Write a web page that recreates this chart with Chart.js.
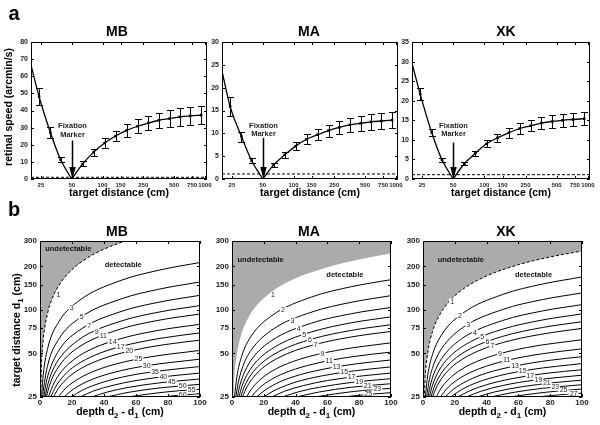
<!DOCTYPE html>
<html>
<head>
<meta charset="utf-8">
<script src="https://cdn.jsdelivr.net/npm/chart.js@4.4.1/dist/chart.umd.min.js"></script>
<style>
  html, body { margin: 0; padding: 0; background: #fff; }
  #wrap { position: relative; width: 600px; height: 425px; overflow: hidden; background: #fff; }
  #wrap canvas { position: absolute; left: 0; top: 0; width: 600px; height: 425px; }
</style>
</head>
<body>
<div id="wrap">
  <canvas id="aMB" width="600" height="425"></canvas>
  <canvas id="aMA" width="600" height="425"></canvas>
  <canvas id="aXK" width="600" height="425"></canvas>
  <canvas id="bMB" width="600" height="425"></canvas>
  <canvas id="bMA" width="600" height="425"></canvas>
  <canvas id="bXK" width="600" height="425"></canvas>
</div>
<script>
// ---- panel a : retinal speed vs target distance ----
const subjects = ['MB', 'MA', 'XK'];
const distances = [24, 31, 39, 50, 64, 82, 105, 134, 172, 220, 280, 355, 453, 570, 720, 920];
const distanceTicks = [25, 50, 100, 150, 250, 500, 750, 1000];

const mbSpeed = [48, 27, 11.2, 0, 8.8, 15.7, 21, 25.1, 28.4, 30.8, 32.7, 34.3, 35.3, 36.3, 36.9, 37.3];
const mbError = [4.9, 3.1, 1.5, 0, 1.5, 2, 2.7, 3.1, 3.7, 4.2, 4.3, 4.5, 5, 5.1, 5.4, 5.3];
const maSpeed = [15.9, 9.3, 4.0, 0, 3.1, 5.3, 7.2, 8.7, 9.7, 10.6, 11.3, 11.85, 12.2, 12.5, 12.7, 12.9];
const maError = [2.0, 1.1, 0.6, 0, 0.4, 0.7, 0.9, 1.1, 1.2, 1.3, 1.4, 1.6, 1.7, 1.7, 1.8, 1.8];
const xkSpeed = [21.7, 11.9, 4.9, 0, 3.9, 6.6, 9.0, 10.5, 11.8, 12.9, 13.6, 14.3, 14.7, 15.0, 15.2, 15.4];
const xkError = [1.5, 1.0, 0.45, 0, 0.4, 0.65, 0.85, 1.1, 1.3, 1.5, 1.4, 1.6, 1.6, 1.65, 1.7, 1.7];

const fitStartDist = 20;                 // fitted curve begins at the left edge
const fitStart = [66.5, 23.6, 29.6];     // MB, MA, XK
const thresholds = [1.0, 1.1, 1.1];
const mbSpeedTicks = [0, 10, 20, 30, 40, 50, 60, 70, 80];
const maSpeedTicks = [0, 5, 10, 15, 20, 25, 30];
const xkSpeedTicks = [0, 5, 10, 15, 20, 25, 30, 35];
const fixationDist = 50;

// ---- panel b : iso-speed contours (depth, target distance) ----
const depthTicks = [0, 20, 40, 60, 80, 100];
const targetTicks = [25, 50, 75, 100, 150, 200, 300];

const mbBoundary = [[0,25],[0.32,25],[1,44.2],[2,62.3],[5,97.5],[8,122.6],[12,149],[18,181],[25,211.5],[33,241],[40,263.5],[52.9,300]];
const mbLevels = [3, 5, 7, 9, 11, 14, 17, 20, 25, 30, 35, 40, 45, 50, 55, 60];
const mbContours = [
  [[0.97,25],[2,35.5],[5,55.3],[12,83.6],[25,117.2],[50,159.3],[75,189.2],[100,213]],
  [[1.67,25],[2,27.3],[5,42.3],[12,63.5],[25,88.3],[50,118.6],[75,139.7],[100,156.2]],
  [[2.4,25],[3.5,29.9],[5,35.4],[12,52.9],[25,72.9],[50,97.1],[75,113.6],[100,126.3]],
  [[3.17,25],[5,30.9],[8,38.4],[12,46],[25,63.1],[50,83.3],[75,97],[100,107.2]],
  [[3.99,25],[6,30.2],[9,36.2],[15,45.3],[25,56.1],[50,73.6],[75,85.2],[100,93.8]],
  [[5.3,25],[8,30],[12,35.8],[18,42.5],[30,52.2],[50,63.1],[75,72.6],[100,79.6]],
  [[6.75,25],[10,29.7],[15,35.2],[22,41.1],[35,49],[50,55.7],[75,63.6],[100,69.4]],
  [[8.33,25],[12,29.2],[18,34.4],[26,39.6],[40,46.3],[60,53.1],[80,58],[100,61.8]],
  [[11.36,25],[16,28.7],[24,33.4],[35,38.2],[50,43],[70,47.6],[100,52.5]],
  [[15,25],[20,27.9],[30,32.2],[45,36.7],[65,40.9],[100,45.7]],
  [[19.5,25],[26,27.7],[38,31.3],[55,35],[75,37.9],[100,40.6]],
  [[25,25],[33,27.4],[45,30],[60,32.5],[80,34.8],[100,36.6]],
  [[32.2,25],[42,27.05],[55,29.1],[75,31.35],[100,33.3]],
  [[41.7,25],[55,26.9],[75,28.9],[100,30.6]],
  [[54.9,25],[70,26.4],[85,27.5],[100,28.3]],
  [[75,25],[87,25.7],[100,26.4]]
];

const maBoundary = [[0,25],[0.76,25],[1.5,35],[3,49],[6,68.5],[10,87.3],[16,108.9],[25,133.8],[40,165.5],[60,197.8],[80,223.8],[100,245.8]];
const maLevels = [2, 3, 4, 5, 6, 7, 9, 11, 13, 15, 17, 19, 21, 23, 25];
const maContours = [
  [[1.56,25],[3,34.2],[6,47.6],[12,65.7],[25,91.3],[50,122.9],[75,144.9],[100,162.1]],
  [[2.42,25],[4,31.7],[7,41.2],[12,52.6],[25,72.6],[50,96.6],[75,113],[100,125.6]],
  [[3.33,25],[5,30.2],[8,37.4],[13,46.5],[25,61.5],[50,81.1],[75,94.2],[100,104.1]],
  [[4.31,25],[6.5,30.2],[10,36.5],[16,44.8],[30,58],[50,70.5],[75,81.5],[100,89.6]],
  [[5.36,25],[8,29.9],[12,35.7],[18,42.3],[30,51.9],[50,62.8],[75,72.2],[100,79.1]],
  [[6.48,25],[9.5,29.5],[14,34.8],[21,41.1],[35,50],[55,58.7],[80,66.4],[100,71]],
  [[9,25],[13,29.1],[19,33.9],[28,39.3],[42,45.4],[65,52.3],[100,59.3]],
  [[11.96,25],[17,28.7],[25,33.2],[36,37.7],[52,42.5],[75,47.4],[100,51.1]],
  [[15.48,25],[21,28],[30,31.8],[43,35.7],[62,39.8],[80,42.65],[100,45.1]],
  [[19.74,25],[26,27.5],[37,30.9],[52,34.2],[75,37.7],[100,40.4]],
  [[25,25],[33,27.4],[45,30],[60,32.5],[80,34.8],[100,36.6]],
  [[31.7,25],[42,27.2],[55,29.2],[75,31.5],[100,33.5]],
  [[40.4,25],[55,27.1],[75,29.2],[100,30.9]],
  [[52.3,25],[65,26.3],[82,27.7],[100,28.7]],
  [[69.4,25],[85,26],[100,26.8]]
];

const xkBoundary = [[0,25],[0.71,25],[1.5,36.2],[3,50.8],[6,71],[10,90.5],[16,112.9],[25,138.9],[40,171.8],[60,205.6],[80,232.8],[100,255.8]];
const xkLevels = [2, 3, 4, 5, 6, 7, 9, 11, 13, 15, 17, 19, 21, 23, 25, 27];
const xkContours = [
  [[1.45,25],[3,35.5],[6,49.3],[12,68.1],[25,94.9],[50,127.9],[75,151],[100,169.1]],
  [[2.25,25],[4,32.9],[7,42.7],[12,54.6],[25,75.5],[50,100.7],[75,117.9],[100,131.2]],
  [[3.09,25],[5,31.3],[8,38.9],[13,48.3],[25,64],[50,84.5],[75,98.4],[100,108.9]],
  [[3.98,25],[6,30.2],[10,38],[16,46.6],[30,60.4],[50,73.6],[75,85.2],[100,93.9]],
  [[4.93,25],[7.5,30.2],[12,37.1],[18,44],[30,54.1],[50,65.6],[75,75.6],[100,82.9]],
  [[5.95,25],[9,30],[14,36.2],[21,42.8],[35,52.2],[55,61.4],[80,69.5],[100,74.5]],
  [[8.21,25],[12,29.4],[18,34.6],[27,40.5],[42,47.5],[65,54.9],[100,62.3]],
  [[10.83,25],[16,29.3],[24,34.2],[35,39.1],[52,44.6],[75,49.8],[100,53.8]],
  [[13.89,25],[19,28.2],[28,32.4],[40,36.6],[58,41],[80,44.9],[100,47.5]],
  [[17.52,25],[24,28],[34,31.5],[48,35.1],[68,38.7],[100,42.6]],
  [[21.9,25],[29,27.5],[40,30.4],[56,33.5],[78,36.5],[100,38.6]],
  [[27.3,25],[36,27.3],[50,30],[70,32.7],[100,35.4]],
  [[34.1,25],[45,27.1],[62,29.4],[82,31.4],[100,32.7]],
  [[42.9,25],[56,26.8],[75,28.7],[100,30.4]],
  [[54.8,25],[70,26.4],[85,27.5],[100,28.4]],
  [[71.8,25],[86,25.9],[100,26.6]]
];

// where the contour numbers sit: [level, depth] (or [level, depth, distance])
const mbLabelAt = [[1,11.5,126],[3,19.8],[5,26],[7,30.8],[9,35.4],[11,39.6],[14,45.4],[17,50.4],[20,55.8],[25,61.5],[30,66.7],[35,71.9],[40,77.1],[45,82.3],[50,89.2],[55,94.8],[60,89.2]];
const maLabelAt = [[1,25.8,126],[2,32.1],[3,38],[4,42],[5,45.4],[6,49],[7,52.7],[9,56.9],[11,61.1],[13,65.8],[15,70.6],[17,75.2],[19,80],[21,85.3],[23,91.4],[25,85.7]];
const xkLabelAt = [[1,18.3,113.6],[2,23.2],[3,28.4],[4,32.6],[5,37.3],[6,40.6],[7,43.6],[9,48.4],[11,52.6],[13,57.9],[15,62.7],[17,67.4],[19,72.6],[21,77.9],[23,83.2],[25,88.4],[27,94.7]];

const FONT = '"Liberation Sans", Arial, Helvetica, sans-serif';

// draws a string with subscript pieces ('_x' means subscript x), centred on cx
function drawParts(ctx, parts, cx, cy, size) {
  const big = 'bold ' + size + 'px ' + FONT;
  const small = 'bold ' + Math.round(size * 0.72) + 'px ' + FONT;
  let w = 0;
  parts.forEach(p => {
    const sub = p[0] === '_';
    ctx.font = sub ? small : big;
    w += ctx.measureText(sub ? p.slice(1) : p).width;
  });
  let x = cx - w / 2;
  ctx.textAlign = 'left';
  ctx.textBaseline = 'middle';
  parts.forEach(p => {
    const sub = p[0] === '_';
    const t = sub ? p.slice(1) : p;
    ctx.font = sub ? small : big;
    ctx.fillText(t, x, cy + (sub ? size * 0.32 : 0));
    x += ctx.measureText(t).width;
  });
}

// box, inward ticks, tick labels and titles (MATLAB look)
const framePlugin = {
  id: 'frame',
  afterDraw(chart, args, o) {
    if (!o.xTicks) return;
    const ctx = chart.ctx, a = chart.chartArea;
    const xs = chart.scales.x, ys = chart.scales.y;
    ctx.save();
    ctx.strokeStyle = '#000';
    ctx.lineWidth = 1;
    ctx.strokeRect(a.left + 0.5, a.top + 0.5, a.right - a.left - 1, a.bottom - a.top - 1);
    ctx.beginPath();
    o.xTicks.forEach(v => {
      const p = Math.round(xs.getPixelForValue(v)) + 0.5;
      ctx.moveTo(p, a.bottom); ctx.lineTo(p, a.bottom - 3);
      ctx.moveTo(p, a.top); ctx.lineTo(p, a.top + 3);
    });
    o.yTicks.forEach(v => {
      const p = Math.round(ys.getPixelForValue(v)) + 0.5;
      ctx.moveTo(a.left, p); ctx.lineTo(a.left + 3, p);
      ctx.moveTo(a.right, p); ctx.lineTo(a.right - 3, p);
    });
    ctx.stroke();

    ctx.fillStyle = '#222';
    ctx.font = 'bold ' + o.xTickSize + 'px ' + FONT;
    ctx.textAlign = 'center';
    ctx.textBaseline = 'middle';
    o.xTicks.forEach(v => ctx.fillText(String(v), xs.getPixelForValue(v), a.bottom + 6));
    ctx.font = 'bold ' + o.yTickSize + 'px ' + FONT;
    ctx.textAlign = 'right';
    o.yTicks.forEach(v => ctx.fillText(String(v), a.left - 3, ys.getPixelForValue(v)));

    ctx.fillStyle = '#000';
    drawParts(ctx, o.xTitle, (a.left + a.right) / 2, o.xTitleY, 10.5);
    if (o.yTitle) {
      ctx.save();
      ctx.translate(o.yTitleX, o.yTitleY);
      ctx.rotate(-Math.PI / 2);
      drawParts(ctx, o.yTitle, 0, 0, 10.5);
      ctx.restore();
    }
    ctx.font = 'bold 14px ' + FONT;
    ctx.textAlign = 'center';
    ctx.textBaseline = 'middle';
    ctx.fillText(o.title, o.titleX, o.titleY);
    if (o.letter) {
      ctx.font = 'bold 20px ' + FONT;
      ctx.fillText(o.letter, o.letterX, o.letterY);
    }
    ctx.restore();
  }
};

const errorBars = {
  id: 'errorBars',
  afterDatasetsDraw(chart) {
    const ctx = chart.ctx, ys = chart.scales.y;
    chart.data.datasets.forEach((ds, i) => {
      if (!ds.errors) return;
      const meta = chart.getDatasetMeta(i);
      ctx.save();
      ctx.strokeStyle = '#000';
      ctx.lineWidth = 1;
      ctx.beginPath();
      meta.data.forEach((pt, k) => {
        const e = ds.errors[k];
        if (!e) return;
        const v = ds.data[k].y;
        const y1 = Math.round(ys.getPixelForValue(v - e)) + 0.5;
        const y2 = Math.round(ys.getPixelForValue(v + e)) + 0.5;
        const x = Math.round(pt.x) + 0.5;
        ctx.moveTo(x, y1); ctx.lineTo(x, y2);
        ctx.moveTo(x - 3.5, y1); ctx.lineTo(x + 3.5, y1);
        ctx.moveTo(x - 3.5, y2); ctx.lineTo(x + 3.5, y2);
      });
      ctx.stroke();
      ctx.restore();
    });
  }
};

const fixationMarker = {
  id: 'fixation',
  afterDatasetsDraw(chart, args, o) {
    if (o.top === undefined) return;
    const ctx = chart.ctx, xs = chart.scales.x, ys = chart.scales.y;
    const x = Math.round(xs.getPixelForValue(fixationDist)) + 0.5;
    const y0 = ys.getPixelForValue(o.top), y1 = ys.getPixelForValue(0);
    ctx.save();
    ctx.strokeStyle = '#000';
    ctx.fillStyle = '#000';
    ctx.lineWidth = 1.5;
    ctx.beginPath();
    ctx.moveTo(x, y0); ctx.lineTo(x, y1 - 10);
    ctx.stroke();
    ctx.beginPath();
    ctx.moveTo(x - 3.2, y1 - 12); ctx.lineTo(x + 3.2, y1 - 12); ctx.lineTo(x, y1);
    ctx.closePath();
    ctx.fill();
    ctx.fillStyle = '#222';
    ctx.font = 'bold 7.5px ' + FONT;
    ctx.textAlign = 'center';
    ctx.textBaseline = 'middle';
    ctx.fillText('Fixation', x, ys.getPixelForValue(o.text[0]));
    ctx.fillText('Marker', x, ys.getPixelForValue(o.text[1]));
    ctx.restore();
  }
};

const contourLabels = {
  id: 'contourLabels',
  afterDatasetsDraw(chart, args, o) {
    if (!o.items) return;
    const ctx = chart.ctx, xs = chart.scales.x, ys = chart.scales.y;
    ctx.save();
    ctx.font = '7px ' + FONT;
    ctx.textAlign = 'center';
    ctx.textBaseline = 'middle';
    o.items.forEach(item => {
      const [level, xv, yv] = item;
      const px = xs.getPixelForValue(xv);
      let py;
      if (yv !== undefined) {
        py = ys.getPixelForValue(yv);
      } else {
        const di = chart.data.datasets.findIndex(d => d.level === level);
        const pts = chart.getDatasetMeta(di).data;
        let k = 0;
        while (k < pts.length - 2 && pts[k + 1].x < px) k++;
        const p0 = pts[k], p1 = pts[k + 1];
        py = p0.y + (px - p0.x) / (p1.x - p0.x) * (p1.y - p0.y);
      }
      const t = String(level);
      const w = ctx.measureText(t).width + 2;
      ctx.fillStyle = '#fff';
      ctx.fillRect(px - w / 2, py - 3.5, w, 7);
      ctx.fillStyle = '#222';
      ctx.fillText(t, px, py);
    });
    ctx.font = 'bold 7.5px ' + FONT;
    ctx.fillStyle = '#111';
    o.notes.forEach(n => ctx.fillText(n[0], xs.getPixelForValue(n[1]), ys.getPixelForValue(n[2])));
    ctx.restore();
  }
};

Chart.register(framePlugin, errorBars, fixationMarker, contourLabels);

function baseOptions(box) {
  return {
    responsive: false,
    animation: false,
    devicePixelRatio: 1,
    events: [],
    layout: { padding: { left: box[0], top: box[1], right: 600 - box[2], bottom: 425 - box[3] } },
    plugins: { legend: { display: false }, tooltip: { enabled: false } }
  };
}

const speedSets = [mbSpeed, maSpeed, xkSpeed];
const errorSets = [mbError, maError, xkError];
const speedTickSets = [mbSpeedTicks, maSpeedTicks, xkSpeedTicks];
const topBoxes = [[31, 42, 207, 179], [222, 42, 398, 179], [412, 42, 590, 179]];
const titleXs = [117, 309, 506];
const fixTop = [22.5, 9.0, 9.3];
const fixText = [[30.8, 25.5], [11.6, 9.85], [13.6, 11.5]];

subjects.forEach((s, i) => {
  const pts = distances.map((d, k) => ({ x: d, y: speedSets[i][k] }));
  const leftBranch = [{ x: fitStartDist, y: fitStart[i] }].concat(pts.slice(0, 4));
  const rightBranch = pts.slice(3);
  const ticks = speedTickSets[i];
  const opts = baseOptions(topBoxes[i]);
  opts.scales = {
    x: { type: 'logarithmic', min: 20, max: 1050, display: false },
    y: { type: 'linear', min: 0, max: ticks[ticks.length - 1], display: false }
  };
  opts.plugins.frame = {
    xTicks: distanceTicks, yTicks: ticks, xTickSize: 6, yTickSize: 7,
    xTitle: ['target distance (cm)'], xTitleY: 193,
    yTitle: i === 0 ? ['retinal speed (arcmin/s)'] : null, yTitleX: 9.5, yTitleY: 107,
    title: s, titleX: titleXs[i], titleY: 32,
    letter: i === 0 ? 'a' : null, letterX: 14, letterY: 14
  };
  opts.plugins.fixation = { top: fixTop[i], text: fixText[i] };
  new Chart(document.getElementById('a' + s), {
    type: 'line',
    data: {
      datasets: [
        { data: [{ x: 20, y: thresholds[i] }, { x: 1050, y: thresholds[i] }], borderColor: '#000', borderWidth: 1, borderDash: [3, 2], pointRadius: 0 },
        { data: leftBranch, borderColor: '#000', borderWidth: 1.3, pointRadius: 0, cubicInterpolationMode: 'monotone' },
        { data: rightBranch, borderColor: '#000', borderWidth: 1.3, pointRadius: 0, cubicInterpolationMode: 'monotone' },
        { data: pts, showLine: false, pointStyle: 'rect', pointRadius: 1.8, backgroundColor: '#000', borderColor: '#000', borderWidth: 0, errors: errorSets[i] }
      ]
    },
    options: opts
  });
});

const boundarySets = [mbBoundary, maBoundary, xkBoundary];
const levelSets = [mbLevels, maLevels, xkLevels];
const contourSets = [mbContours, maContours, xkContours];
const labelSets = [mbLabelAt, maLabelAt, xkLabelAt];
const dashedBoundary = [true, false, true];
const bottomBoxes = [[40, 241, 200, 397], [232, 241, 391, 397], [423, 241, 582, 397]];
const noteSets = [
  [['undetectable', 17.7, 265], ['detectable', 52, 204]],
  [['undetectable', 18, 223], ['detectable', 71, 173.5]],
  [['undetectable', 23.8, 223], ['detectable', 69.5, 173.5]]
];

subjects.forEach((s, i) => {
  const toXY = arr => arr.map(p => ({ x: p[0], y: p[1] }));
  const datasets = [{
    data: toXY(boundarySets[i]), level: 1,
    borderColor: dashedBoundary[i] ? '#000' : 'rgba(0,0,0,0)', borderWidth: 1, borderDash: [3, 2],
    fill: 'end', backgroundColor: '#ababab', pointRadius: 0, cubicInterpolationMode: 'monotone'
  }];
  contourSets[i].forEach((c, k) => datasets.push({
    data: toXY(c), level: levelSets[i][k], borderColor: '#000', borderWidth: 1,
    pointRadius: 0, fill: false, cubicInterpolationMode: 'monotone'
  }));
  const opts = baseOptions(bottomBoxes[i]);
  opts.scales = {
    x: { type: 'linear', min: 0, max: 100, display: false },
    y: { type: 'logarithmic', min: 25, max: 300, display: false }
  };
  opts.plugins.frame = {
    xTicks: depthTicks, yTicks: targetTicks, xTickSize: 8, yTickSize: 8,
    xTitle: ['depth d', '_2', ' - d', '_1', ' (cm)'], xTitleY: 412,
    yTitle: i === 0 ? ['target distance d', '_1', ' (cm)'] : null, yTitleX: 17, yTitleY: 330,
    title: s, titleX: titleXs[i], titleY: 232,
    letter: i === 0 ? 'b' : null, letterX: 14, letterY: 210
  };
  opts.plugins.contourLabels = { items: labelSets[i], notes: noteSets[i] };
  new Chart(document.getElementById('b' + s), {
    type: 'line',
    data: { datasets },
    options: opts
  });
});
</script>
</body>
</html>
